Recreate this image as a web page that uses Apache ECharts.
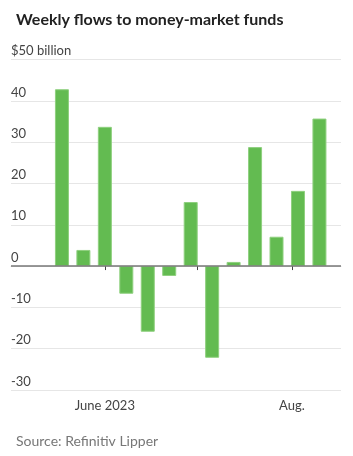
<!DOCTYPE html>
<html>
<head>
<meta charset="utf-8">
<script src="https://cdn.jsdelivr.net/npm/echarts@6/dist/echarts.min.js"></script>
<style>
  html, body { margin: 0; padding: 0; background: #fff; }
  #chart { width: 353px; height: 456px; }
</style>
</head>
<body>
<div id="chart"></div>
<script>
// weekly flows, billions of dollars (week dates)
var weeks = ['2023-05-18', '2023-05-25', '2023-06-01', '2023-06-08', '2023-06-15',
             '2023-06-22', '2023-06-29', '2023-07-06', '2023-07-13', '2023-07-20',
             '2023-07-27', '2023-08-03', '2023-08-10'];
var flows = [42.8, 3.9, 33.7, -6.7, -15.9, -2.4, 15.5, -22.2, 1.0, 28.8, 7.1, 18.2, 35.7];
var yTicks = [-30, -20, -10, 0, 10, 20, 30, 40, 50];
var monthLabels = {5: 'June 2023', 6: '', 7: 'Aug.'};

var chart = echarts.init(document.getElementById('chart'));
var font = 'Lato';

var option = {
    animation: false,
    title: [{
        text: 'Weekly flows to money-market funds',
        left: 11,
        top: 7,
        textStyle: { fontFamily: font, fontSize: 16, fontWeight: 'bold', color: '#222' }
    }, {
        text: 'Source: Refinitiv Lipper',
        left: 11,
        top: 429,
        textStyle: { fontFamily: font, fontSize: 14, fontWeight: 'normal', color: '#777' }
    }],
    grid: { left: 11, right: 12, top: 59.5, bottom: 66 },
    xAxis: {
        type: 'time',
        min: '2023-05-03T16:00:00',
        max: '2023-08-14T18:00:00',
        minInterval: 28 * 86400000,
        maxInterval: 31 * 86400000,
        axisLine: { lineStyle: { color: '#e3e3e3' } },
        axisTick: { show: true, length: 4, lineStyle: { color: '#444' } },
        splitLine: { show: false },
        axisLabel: {
            showMinLabel: false,
            showMaxLabel: false,
            margin: 9,
            fontFamily: font,
            fontSize: 13,
            color: '#444',
            formatter: function (v) {
                var d = new Date(v);
                var m = monthLabels[d.getMonth()];
                return m === undefined ? '' : m;
            }
        }
    },
    yAxis: {
        type: 'value',
        min: yTicks[0],
        max: yTicks[yTicks.length - 1],
        interval: 10,
        axisLine: { show: false },
        axisTick: { show: false },
        splitLine: { showMinLine: true, showMaxLine: true, lineStyle: { color: '#e6e6e6' } },
        axisLabel: {
            inside: true,
            margin: 0,
            align: 'left',
            verticalAlign: 'bottom',
            padding: [0, 0, 2, 0],
            fontFamily: font,
            fontSize: 13,
            color: '#444',
            formatter: function (v) {
                return v === 50 ? '$50 billion' : String(v);
            }
        }
    },
    series: [{
        type: 'bar',
        barWidth: 14,
        data: weeks.map(function (w, i) { return [w, flows[i]]; }),
        itemStyle: { color: '#63bb51', borderColor: '#8fd07f', borderWidth: 1 },
        markLine: {
            silent: true,
            symbol: 'none',
            label: { show: false },
            lineStyle: { color: '#777', width: 1.5, type: 'solid' },
            data: [{ yAxis: 0 }]
        }
    }]
};
chart.setOption(option);
</script>
</body>
</html>
